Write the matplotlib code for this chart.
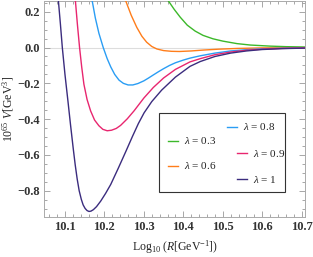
import matplotlib
matplotlib.use("Agg")
import matplotlib.pyplot as plt
from matplotlib.ticker import MultipleLocator, FormatStrFormatter, FuncFormatter
from matplotlib.patches import Rectangle

plt.rcParams['font.family'] = ['Liberation Serif', 'DejaVu Serif']
plt.rcParams['mathtext.fontset'] = 'custom'
plt.rcParams['mathtext.rm'] = 'Liberation Serif'
plt.rcParams['mathtext.it'] = 'Liberation Serif:italic'

# values
lam_labels = ["0.3", "0.6", "0.8", "0.9", "1"]
colors = ["#3cb82a", "#ff7d1a", "#2a9df4", "#e8266f", "#3b2c7e"]

x_03 = [10.345, 10.362, 10.377, 10.392, 10.41, 10.43, 10.45, 10.475, 10.50, 10.536, 10.57,
        10.62, 10.66, 10.71]
y_03 = [0.320, 0.261, 0.213, 0.170, 0.125, 0.092, 0.068, 0.049, 0.036, 0.022, 0.014,
        0.008, 0.005, 0.003]

x_06 = [10.2415, 10.254, 10.268, 10.282, 10.295, 10.307, 10.32, 10.333, 10.35, 10.37, 10.39,
        10.42, 10.451, 10.49, 10.536, 10.6, 10.71]
y_06 = [0.350, 0.261, 0.180, 0.113, 0.063, 0.030, 0.006, -0.008, -0.017, -0.021, -0.022,
        -0.019, -0.014, -0.009, -0.005, -0.002, -0.0005]

x_08 = [10.161, 10.169, 10.177, 10.186, 10.197, 10.207, 10.216, 10.226, 10.237, 10.248, 10.26,
        10.272, 10.285, 10.30, 10.312, 10.324, 10.337, 10.35, 10.365, 10.38, 10.40, 10.417,
        10.443, 10.48, 10.52, 10.56, 10.60, 10.65, 10.71]
y_08 = [0.350, 0.261, 0.165, 0.080, 0.0, -0.062, -0.108, -0.150, -0.182, -0.200, -0.209,
        -0.209, -0.201, -0.186, -0.170, -0.153, -0.135, -0.118, -0.100, -0.085, -0.070, -0.059,
        -0.046, -0.031, -0.019, -0.012, -0.007, -0.004, -0.002]

x_09 = [10.123, 10.1265, 10.1315, 10.137, 10.1425, 10.148, 10.156, 10.165, 10.175, 10.186,
        10.196, 10.207, 10.218, 10.23, 10.241, 10.258, 10.275, 10.30, 10.324, 10.35, 10.38,
        10.417, 10.443, 10.48, 10.52, 10.56, 10.60, 10.65, 10.71]
y_09 = [0.350, 0.260, 0.130, 0.0, -0.110, -0.205, -0.290, -0.354, -0.405, -0.437,
        -0.457, -0.465, -0.462, -0.452, -0.435, -0.398, -0.354, -0.282, -0.223, -0.170, -0.122,
        -0.080, -0.062, -0.040, -0.025, -0.015, -0.009, -0.005, -0.002]

x_10 = [10.0797, 10.0838, 10.0885, 10.0933, 10.100, 10.1076, 10.114, 10.1211, 10.126, 10.131,
        10.136, 10.1414, 10.146, 10.151, 10.156, 10.1609, 10.166, 10.172, 10.18, 10.1906,
        10.203, 10.216, 10.235, 10.254, 10.271, 10.286, 10.3005, 10.32, 10.345, 10.38, 10.417,
        10.443, 10.48, 10.52, 10.56, 10.60, 10.65, 10.71]
y_10 = [0.340, 0.250, 0.130, 0.0, -0.150, -0.300, -0.430, -0.567, -0.656, -0.735,
        -0.800, -0.848, -0.879, -0.899, -0.911, -0.916, -0.914, -0.906, -0.889, -0.858,
        -0.815, -0.765, -0.675, -0.582, -0.497, -0.425, -0.365, -0.302, -0.238, -0.165, -0.105,
        -0.078, -0.050, -0.031, -0.019, -0.011, -0.006, -0.003]

curves = [(x_03, y_03), (x_06, y_06), (x_08, y_08), (x_09, y_09), (x_10, y_10)]

fig = plt.figure(figsize=(3.13, 2.57), dpi=100)
ax = fig.add_axes([0.142, 0.157, 0.832, 0.839])

ax.axhline(0, color="#dddddd", lw=0.8, zorder=1)
for (xs, ys), c in zip(curves, colors):
    ax.plot(xs, ys, color=c, lw=1.0, zorder=3, solid_joinstyle="round")

ax.set_xlim(10.048, 10.708)
ax.set_ylim(-0.945, 0.26)

ax.xaxis.set_major_locator(MultipleLocator(0.1))
ax.xaxis.set_minor_locator(MultipleLocator(0.02))
ax.yaxis.set_major_locator(MultipleLocator(0.2))
ax.yaxis.set_minor_locator(MultipleLocator(0.05))
ax.xaxis.set_major_formatter(FormatStrFormatter('%.1f'))
ax.yaxis.set_major_formatter(FuncFormatter(
    lambda v, p: ("\u2212%.1f" % -v) if v < -1e-9 else "%.1f" % abs(v)))

ax.tick_params(which="both", direction="in", top=True, right=True, color="#999999",
               labelsize=9, labelcolor="#333333", width=0.6, pad=3)
ax.tick_params(which="major", length=4)
ax.tick_params(which="minor", length=2)
for lab in ax.get_xticklabels() + ax.get_yticklabels():
    lab.set_fontweight("bold")
for s in ax.spines.values():
    s.set_color("#aaaaaa")
    s.set_linewidth(0.7)

ax.set_xlabel(r"Log$_{10}$ ($\it{R}$[GeV$^{-1}$])", fontsize=8.5, labelpad=4, color="#222222")
ax.set_ylabel(r"10$^{65}$ $\it{V}$[GeV$^{3}$]", fontsize=8.5, labelpad=1, color="#222222")

# legend drawn by hand to get the staggered layout
ax.add_patch(Rectangle((0.44, 0.115), 0.483, 0.366, transform=ax.transAxes,
                       facecolor="white", edgecolor="#333333", lw=0.8, zorder=5))
leg = [(0, 0.474, 0.352), (1, 0.474, 0.236), (2, 0.700, 0.417), (3, 0.739, 0.294), (4, 0.739, 0.174)]
for i, lx, ly in leg:
    ax.plot([lx, lx + 0.038], [ly, ly], transform=ax.transAxes, color=colors[i], lw=1.0, zorder=6)
    ax.text(lx + 0.062, ly, r"$\it{\lambda}$ = " + lam_labels[i], transform=ax.transAxes,
            fontsize=8, va="center", ha="left", color="#222222", zorder=6)

fig.savefig("out.png", dpi=100)
